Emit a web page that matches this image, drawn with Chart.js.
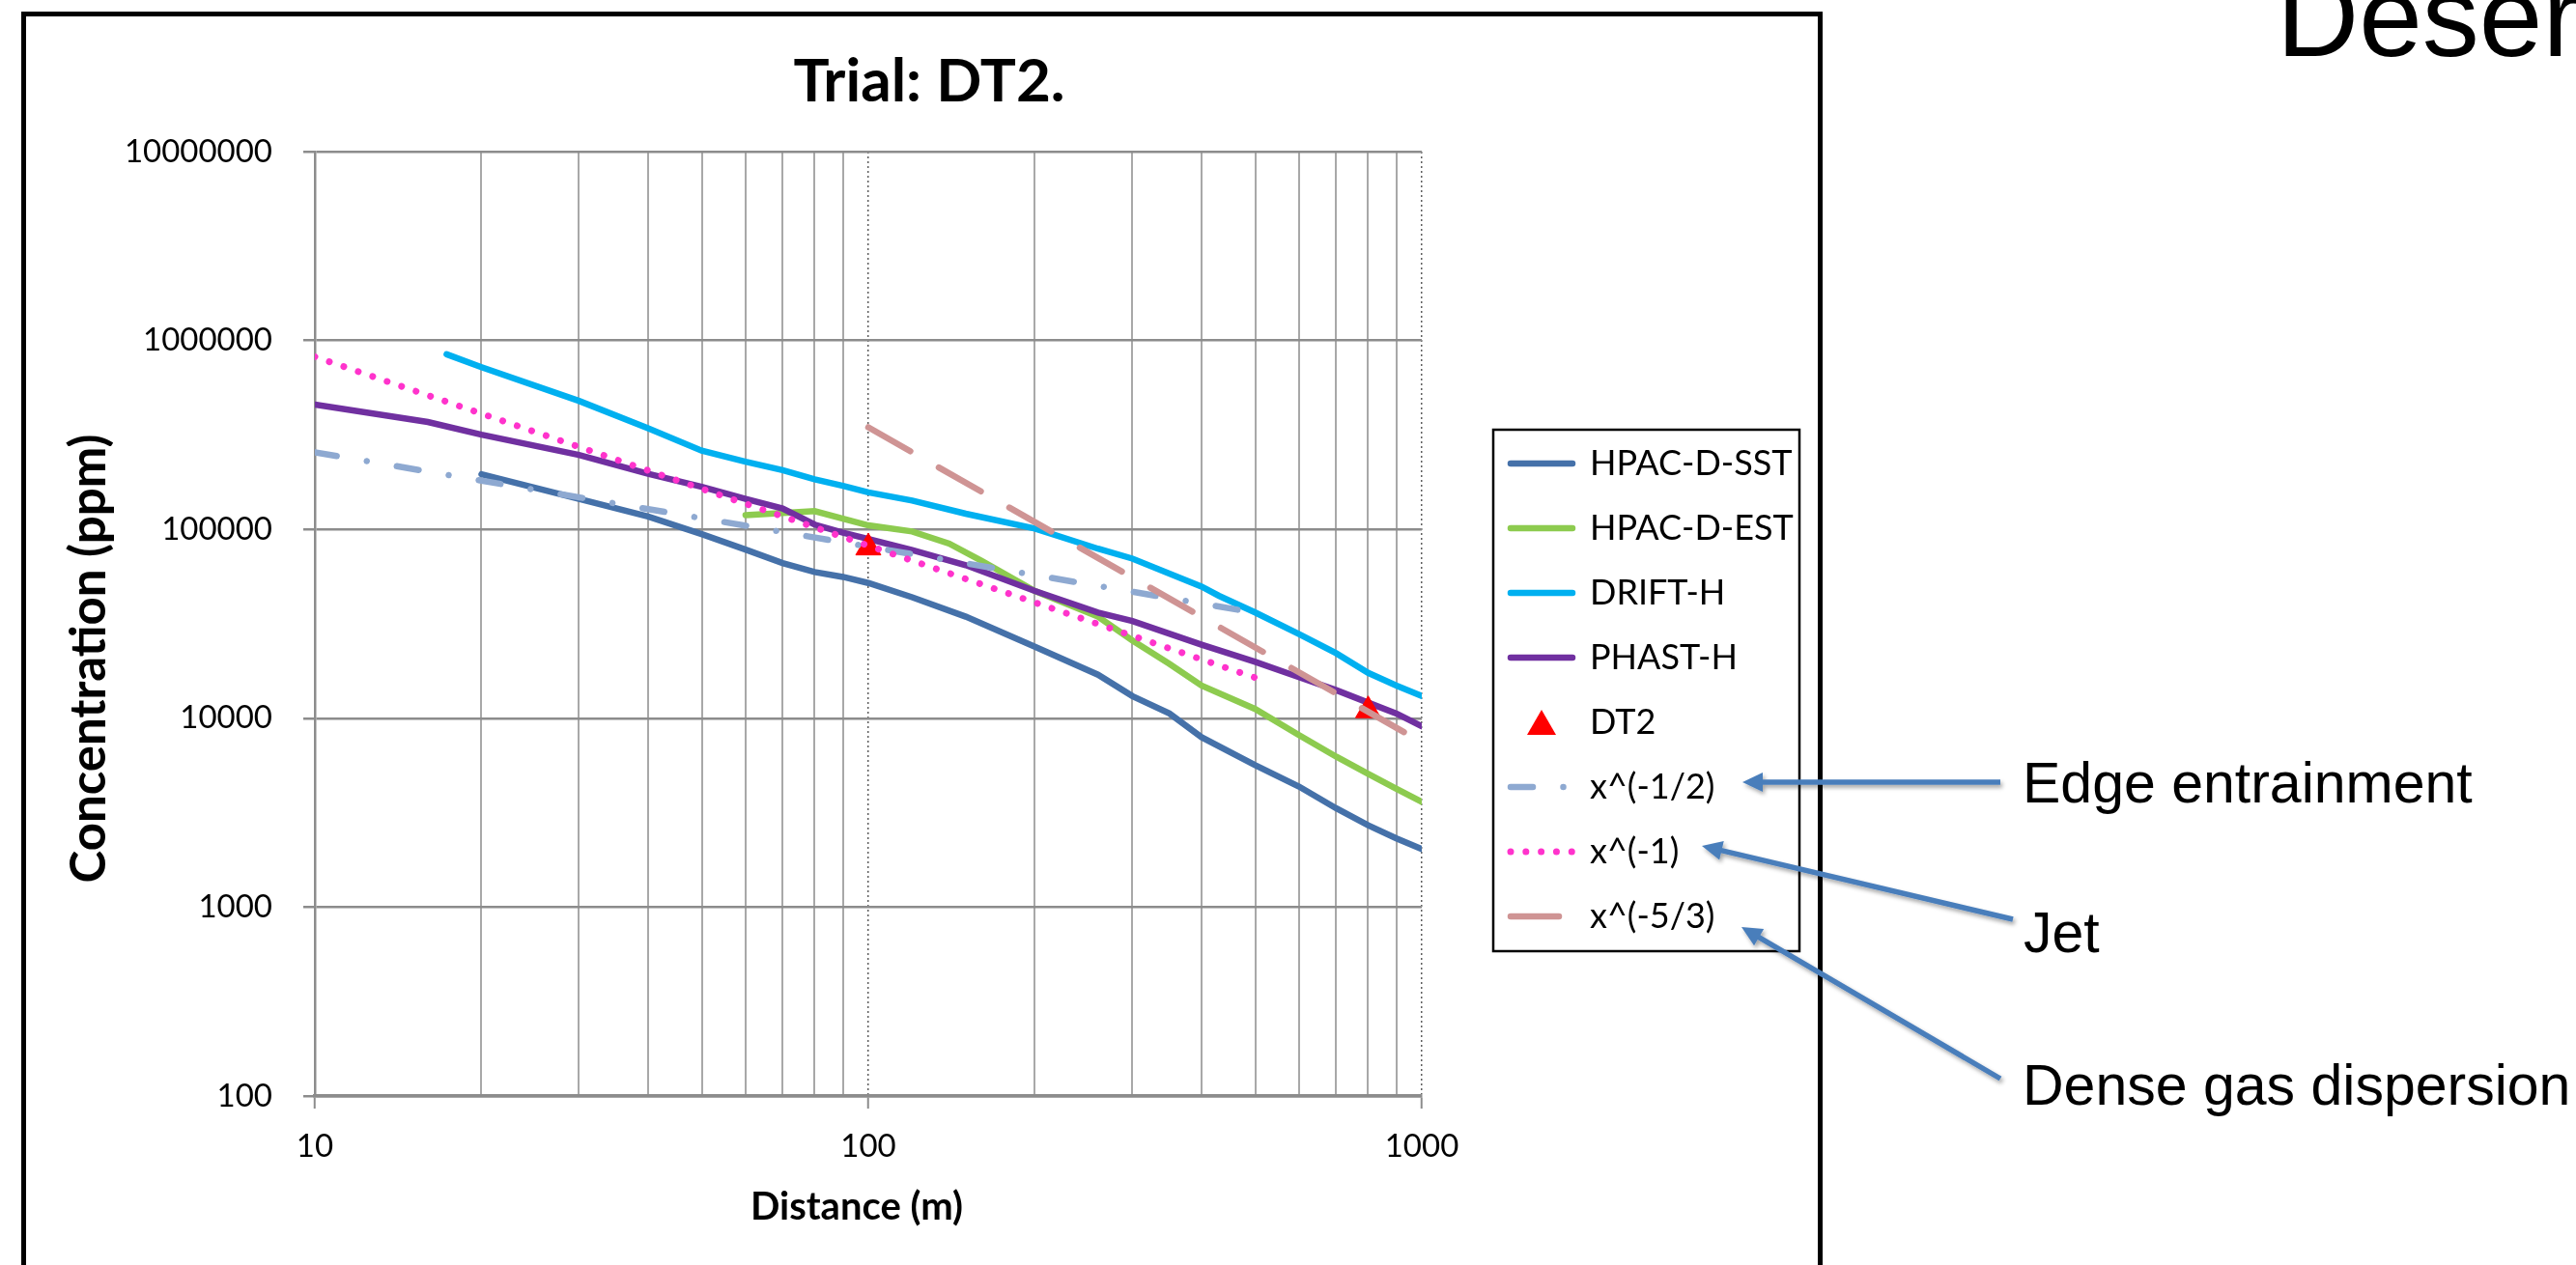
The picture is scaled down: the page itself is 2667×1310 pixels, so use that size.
<!DOCTYPE html>
<html>
<head>
<meta charset="utf-8">
<script src="https://cdn.jsdelivr.net/npm/chart.js@4.4.1/dist/chart.umd.min.js"></script>
<style>
  html, body { margin: 0; padding: 0; background: #fff; }
  body { width: 2667px; height: 1310px; position: relative; overflow: hidden; }
  #frame { position: absolute; left: 22px; top: 12px; width: 1865px; height: 1400px; border: 5px solid #000; box-sizing: border-box; }
  #chart { position: absolute; left: 27px; top: 17px; }
  .note { position: absolute; font-family: "Liberation Sans", Arial, sans-serif; font-size: 59px; line-height: 59px; color: #000; white-space: nowrap; }
  #heading { font-size: 118px; line-height: 118px; }
  #arrows { position: absolute; left: 0; top: 0; }
</style>
</head>
<body>
<div id="frame"></div>
<canvas id="chart" width="1855" height="1293"></canvas>
<div class="note" id="heading" style="left:2357px; top:-42px">Deser</div>
<div class="note" style="left:2094px; top:782px">Edge entrainment</div>
<div class="note" style="left:2095px; top:937px">Jet</div>
<div class="note" style="left:2094px; top:1095px">Dense gas dispersion</div>
<svg id="arrows" width="2667" height="1310"></svg>

<script>
// distances (m) and concentrations (ppm)
const xSST = [20, 30, 40, 50, 60, 70, 80, 90, 100, 120, 150, 200, 260, 300, 350, 400, 500, 600, 700, 800, 900, 1000];
const ySST = [196000, 145000, 117000, 94300, 78200, 66300, 59400, 56000, 52000, 43700, 34500, 23900, 17000, 13100, 10600, 7940, 5650, 4350, 3340, 2710, 2310, 2030];

const xEST = [60, 70, 80, 90, 100, 120, 140, 160, 200, 260, 300, 350, 400, 500, 600, 700, 800, 900, 1000];
const yEST = [119000, 122000, 125000, 114000, 105000, 97500, 84100, 68200, 47200, 34500, 25800, 19400, 14900, 11200, 8150, 6270, 5080, 4230, 3610];

const xDRIFT = [17.3, 20, 30, 40, 50, 60, 70, 80, 90, 100, 120, 150, 200, 260, 300, 400, 430, 500, 600, 700, 800, 900, 1000];
const yDRIFT = [845000, 722000, 479000, 343000, 261000, 228000, 206000, 184000, 170000, 157000, 142000, 121000, 101000, 79000, 70000, 49800, 44500, 36300, 27900, 22100, 17400, 14900, 13100];

const xPHAST = [10, 16, 20, 30, 40, 50, 60, 70, 80, 90, 100, 120, 150, 200, 260, 300, 400, 500, 600, 700, 800, 900, 1000];
const yPHAST = [458000, 370000, 317000, 248000, 197000, 168000, 145000, 129000, 106000, 96000, 89000, 77600, 64600, 47200, 36300, 32700, 24500, 19900, 16500, 14100, 12100, 10600, 9060];

const xDT2 = [100, 800];
const yDT2 = [80000, 11000];

const xHalf = [10, 100, 500];
const yHalf = [256000, 81000, 36200];
const xOne = [10, 100, 500];
const yOne = [820000, 82000, 16400];
const xFiveThirds = [100, 1000];
const yFiveThirds = [347000, 7470];

const xTickLabels = [10, 100, 1000];
const xGridValues = [10, 20, 30, 40, 50, 60, 70, 80, 90, 100, 200, 300, 400, 500, 600, 700, 800, 900, 1000];
const yTickLabels = [100, 1000, 10000, 100000, 1000000, 10000000];

const pts = (xs, ys) => xs.map((x, i) => ({ x: x, y: ys[i] }));
const isMajor = c => c.tick && xTickLabels.includes(c.tick.value);

Chart.defaults.font.family = 'Lato, "Open Sans", sans-serif';
Chart.defaults.color = '#000';

// small red triangle used as the DT2 legend symbol
const legendTriangle = document.createElement('canvas');
legendTriangle.width = 30; legendTriangle.height = 26;
(function () {
  const c = legendTriangle.getContext('2d');
  c.fillStyle = '#FF0000';
  c.beginPath(); c.moveTo(15, 0); c.lineTo(30, 26); c.lineTo(0, 26); c.closePath(); c.fill();
})();

const datasets = [
  { label: 'HPAC-D-SST', data: pts(xSST, ySST), borderColor: '#4571A9', borderWidth: 6.5, borderCapStyle: 'round' },
  { label: 'HPAC-D-EST', data: pts(xEST, yEST), borderColor: '#8DCB4F', borderWidth: 6.5, borderCapStyle: 'round' },
  { label: 'DRIFT-H', data: pts(xDRIFT, yDRIFT), borderColor: '#00B0F0', borderWidth: 6.5, borderCapStyle: 'round' },
  { label: 'PHAST-H', data: pts(xPHAST, yPHAST), borderColor: '#7030A0', borderWidth: 6.5, borderCapStyle: 'round' },
  { label: 'DT2', data: pts(xDT2, yDT2), showLine: false, borderColor: '#FF0000', backgroundColor: '#FF0000',
    pointStyle: 'triangle', pointRadius: 15, pointBorderWidth: 1 },
  { label: 'x^(-1/2)', data: pts(xHalf, yHalf), borderColor: '#8EA9D1', borderWidth: 6.5, borderCapStyle: 'round', borderDash: [23, 31.5, 0.01, 31.5] },
  { label: 'x^(-1)', data: pts(xOne, yOne), borderColor: '#FF33CC', borderWidth: 7, borderCapStyle: 'round', borderDash: [0.01, 15.8] },
  { label: 'x^(-5/3)', data: pts(xFiveThirds, yFiveThirds), borderColor: '#CF9494', borderWidth: 6.5, borderCapStyle: 'round', borderDash: [50, 34] }
];
datasets.forEach((d, i) => {
  d.order = datasets.length - i;   // later series on top, like the original
  d.tension = 0;
  d.fill = false;
  if (d.showLine !== false) d.pointRadius = 0;
});

const LEGEND_W = 410;

// legend sits in a framed box to the right, like the Excel one; axis titles placed as in the original
const excelLook = {
  id: 'excelLook',
  beforeLayout(chart) {
    const lg = chart.legend;
    if (lg && !lg._fixedWidth) {
      const fit = lg.fit.bind(lg);
      lg.fit = function () { fit(); this.width = LEGEND_W; };
      lg._fixedWidth = true;
    }
  },
  afterLayout(chart) {
    const lg = chart.legend;
    const w = lg.width, h = lg.height;
    lg.left = 1506; lg.right = lg.left + w;
    lg.top = 414; lg.bottom = lg.top + h;
  },
  afterDraw(chart) {
    const ctx = chart.ctx;
    const a = chart.chartArea;
    const hb = chart.legend.legendHitBoxes;
    ctx.save();
    if (hb && hb.length) {
      const first = hb[0], last = hb[hb.length - 1];
      ctx.strokeStyle = '#000';
      ctx.lineWidth = 2.5;
      const top = first.top - 17;
      ctx.strokeRect(first.left - 18, top, 317, last.top + last.height + 18 - top);
    }
    ctx.fillStyle = '#000';
    ctx.textAlign = 'center';
    ctx.textBaseline = 'middle';
    ctx.font = 'bold 51px Lato, "Open Sans", sans-serif';
    ctx.translate(66, (a.top + a.bottom) / 2 + 36);
    ctx.rotate(-Math.PI / 2);
    ctx.fillText('Concentration (ppm)', 0, 0);
    ctx.restore();
    ctx.save();
    ctx.fillStyle = '#000';
    ctx.textAlign = 'center';
    ctx.textBaseline = 'middle';
    ctx.font = 'bold 40px Lato, "Open Sans", sans-serif';
    ctx.fillText('Distance (m)', (a.left + a.right) / 2 - 12, a.bottom + 115);
    ctx.restore();
  }
};

new Chart(document.getElementById('chart'), {
  type: 'line',
  data: { datasets: datasets },
  plugins: [excelLook],
  options: {
    responsive: false,
    devicePixelRatio: 1,
    animation: false,
    events: [],
    layout: { padding: { left: 15, right: 0, top: 0, bottom: 0 } },
    plugins: {
      title: {
        display: true, text: 'Trial: DT2.', color: '#000',
        font: { size: 62, weight: 'bold' },
        padding: { top: 31, bottom: 34.6 }
      },
      legend: {
        position: 'right', align: 'start',
        labels: {
          usePointStyle: true, pointStyleWidth: 64, boxHeight: 20, padding: 31,
          color: '#000', font: { size: 36 },
          generateLabels: chart => chart.data.datasets.map((ds, i) => ({
            text: ds.label,
            datasetIndex: i,
            hidden: false,
            fontColor: '#000',
            fillStyle: ds.backgroundColor || ds.borderColor,
            strokeStyle: ds.borderColor,
            lineWidth: ds.showLine === false ? 0 : ds.borderWidth,
            lineDash: ds.borderDash || [],
            lineCap: ds.borderCapStyle || 'butt',
            pointStyle: ds.showLine === false ? legendTriangle : 'line'
          }))
        }
      },
      tooltip: { enabled: false }
    },
    scales: {
      x: {
        type: 'logarithmic', min: 10, max: 1000,
        afterBuildTicks: s => { s.ticks = xGridValues.map(v => ({ value: v })); },
        afterFit: s => { s.height = 175; },
        grid: {
          color: c => isMajor(c) ? (c.tick.value === 10 ? 'rgba(0,0,0,0)' : '#5f5f5f') : '#a8a8a8',
          lineWidth: c => isMajor(c) ? 1.5 : 2,
          tickLength: 13,
          tickColor: c => isMajor(c) ? '#8c8c8c' : 'rgba(0,0,0,0)',
          tickWidth: 2
        },
        border: { color: '#8c8c8c', width: 3.5, dash: c => isMajor(c) ? [2, 3] : [] },
        ticks: {
          autoSkip: false, maxRotation: 0, padding: 20, color: '#000',
          font: { size: 33 },
          callback: v => xTickLabels.includes(v) ? String(v) : ''
        }
      },
      y: {
        type: 'logarithmic', min: 100, max: 10000000,
        afterBuildTicks: s => { s.ticks = yTickLabels.map(v => ({ value: v })); },
        afterFit: s => { s.width = 284; },
        grid: { color: '#8c8c8c', lineWidth: 2.5, tickLength: 12, tickColor: '#8c8c8c', tickWidth: 2.5 },
        border: { color: '#8c8c8c', width: 2.5 },
        ticks: { padding: 32, color: '#000', font: { size: 33 }, callback: v => String(v) }
      }
    }
  }
});

// callout arrows from the notes to the legend entries
const arrows = [[2071, 810, 1804, 810], [2084, 952, 1762, 876], [2071, 1117, 1803, 960]];
const svg = document.getElementById('arrows');
let out = '<defs><filter id="sh" x="-20%" y="-50%" width="140%" height="200%">' +
  '<feDropShadow dx="2" dy="3" stdDeviation="2" flood-color="#000" flood-opacity="0.35"/></filter></defs><g filter="url(#sh)">';
arrows.forEach(([x1, y1, x2, y2]) => {
  const len = Math.hypot(x2 - x1, y2 - y1);
  const ux = (x2 - x1) / len, uy = (y2 - y1) / len;
  const bx = x2 - ux * 21, by = y2 - uy * 21;
  const ex = x2 - ux * 15, ey = y2 - uy * 15;
  out += `<line x1="${x1}" y1="${y1}" x2="${ex}" y2="${ey}" stroke="#4A7EBB" stroke-width="5.5"/>`;
  out += `<polygon points="${x2},${y2} ${bx - uy * 10},${by + ux * 10} ${bx + uy * 10},${by - ux * 10}" fill="#4A7EBB"/>`;
});
svg.innerHTML = out + '</g>';
</script>
</body>
</html>
